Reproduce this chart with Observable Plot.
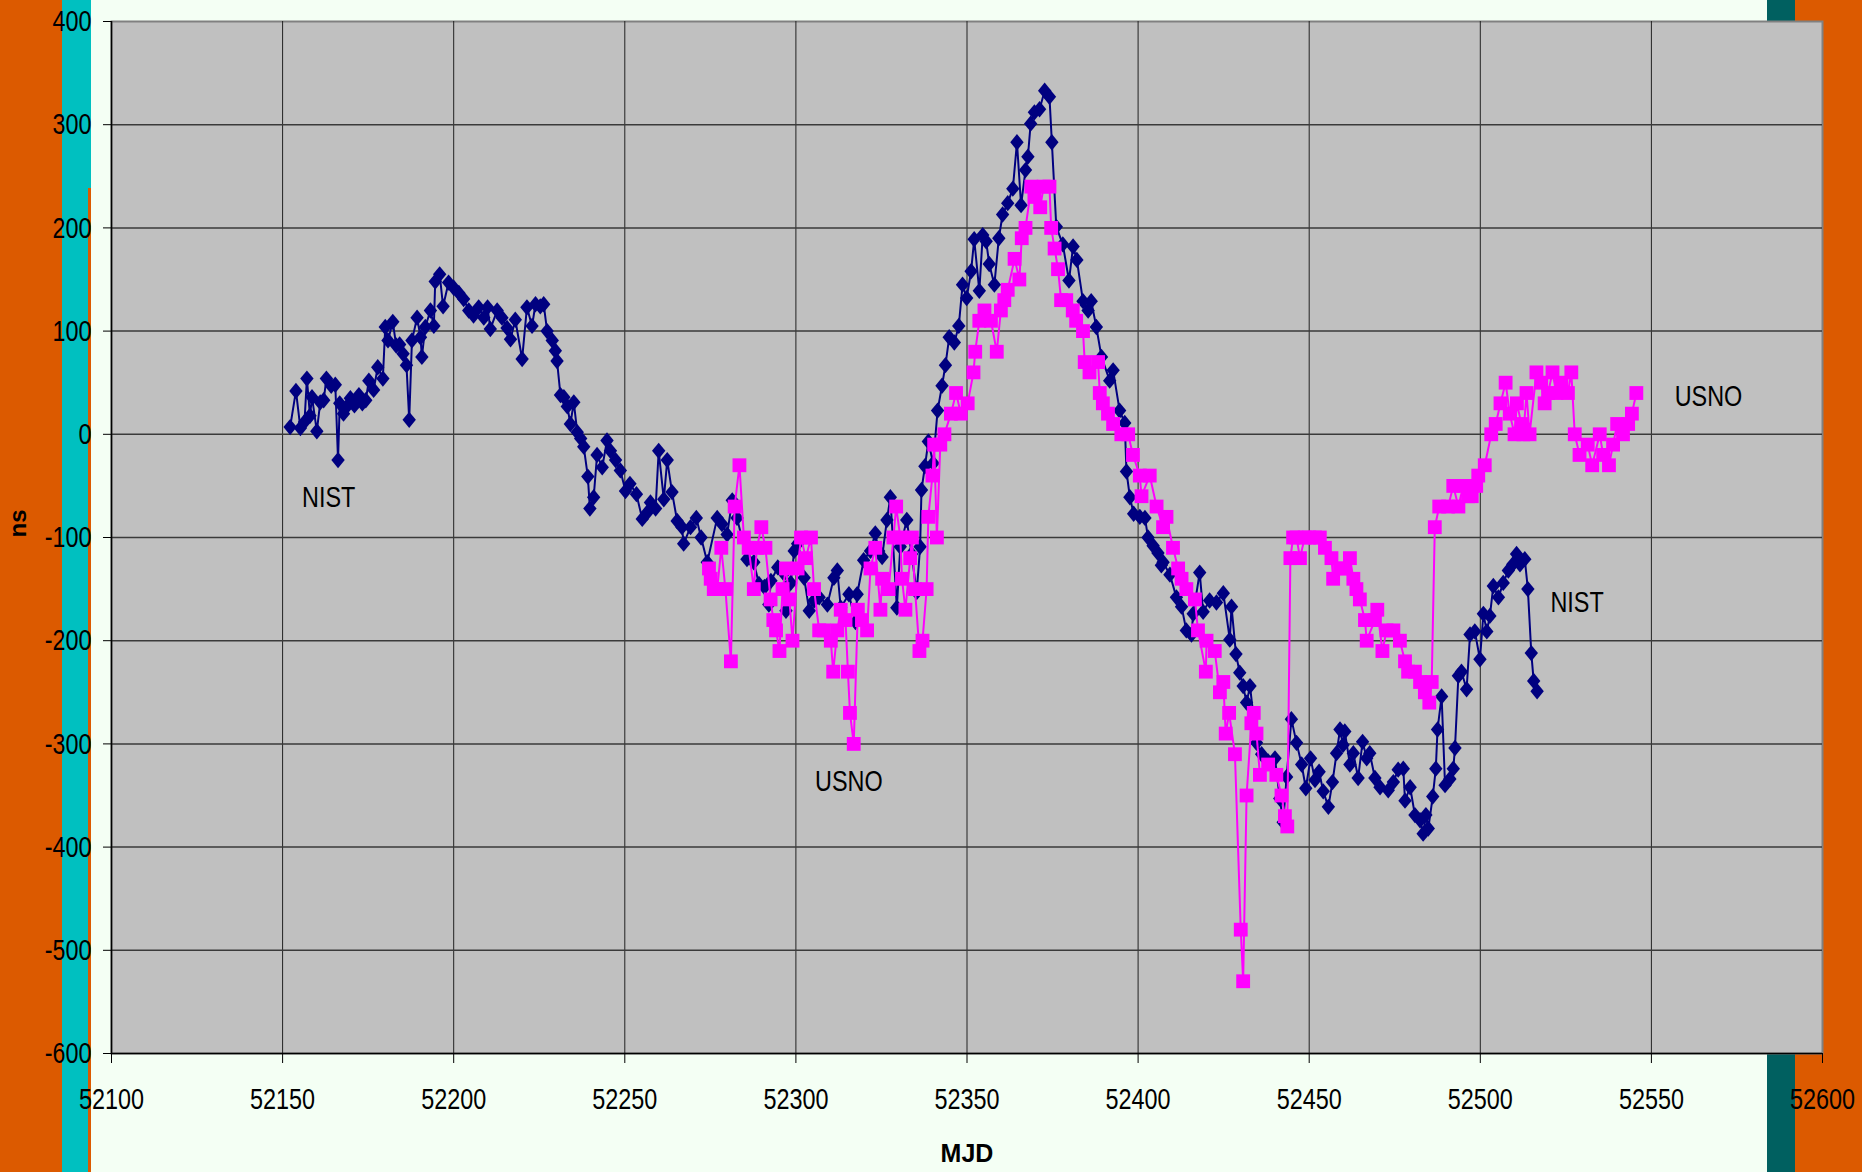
<!DOCTYPE html>
<html>
<head>
<meta charset="utf-8">
<script src="https://cdn.jsdelivr.net/npm/d3@7"></script>
<script src="https://cdn.jsdelivr.net/npm/@observablehq/plot@0.6"></script>
<style>
  html, body { margin: 0; padding: 0; }
  body { width: 1862px; height: 1172px; position: relative; overflow: hidden; background: #F4FFF4; }
  .band { position: absolute; }
  #chart { position: absolute; left: 0; top: 0; }
</style>
</head>
<body>
<div class="band" style="left:0;top:0;width:62px;height:1172px;background:#DC5A00"></div>
<div class="band" style="left:62px;top:0;width:29px;height:1172px;background:#00C0C0"></div>
<div class="band" style="left:88px;top:188px;width:3px;height:984px;background:#DC5A00"></div>
<div class="band" style="left:1767px;top:0;width:28px;height:1172px;background:#006060"></div>
<div class="band" style="left:1795px;top:0;width:67px;height:1172px;background:#DC5A00"></div>
<div id="chart"></div>
<script>
const xTicks = [52100, 52150, 52200, 52250, 52300, 52350, 52400, 52450, 52500, 52550, 52600];
const yTicks = [400, 300, 200, 100, 0, -100, -200, -300, -400, -500, -600];
const xGrid = [52150, 52200, 52250, 52300, 52350, 52400, 52450, 52500, 52550];
const yGrid = [300, 200, 100, 0, -100, -200, -300, -400, -500];

const nistMjd = [52152.2,52153.9,52155.2,52156.4,52157.1,52158.0,52158.6,52160.0,52161.0,52162.0,52162.8,52164.2,52165.4,52166.2,52166.7,52167.8,52168.8,52169.8,52171.0,52172.3,52173.3,52174.3,52175.2,52176.6,52177.8,52179.3,52180.0,52180.8,52182.2,52183.2,52184.2,52185.2,52186.2,52187.0,52187.8,52189.3,52190.3,52190.7,52191.7,52193.2,52194.2,52194.6,52195.9,52196.9,52198.5,52200.0,52201.5,52202.9,52204.4,52205.8,52207.3,52208.8,52209.9,52210.7,52212.7,52214.1,52215.6,52216.6,52218.0,52220.0,52221.4,52222.9,52223.9,52225.3,52226.3,52227.3,52228.8,52229.7,52230.2,52231.2,52232.2,52233.2,52234.1,52235.1,52236.1,52237.1,52238.0,52239.2,52239.8,52240.9,52241.9,52243.4,52244.8,52245.8,52247.3,52248.7,52250.2,52251.5,52253.4,52255.1,52256.5,52257.5,52259.0,52259.9,52261.4,52262.4,52263.8,52265.3,52266.7,52267.2,52269.2,52270.9,52272.3,52274.1,52277.0,52278.4,52279.9,52281.4,52282.8,52285.7,52287.7,52289.2,52290.8,52292.1,52292.7,52294.7,52296.5,52297.1,52298.5,52299.5,52300.5,52302.4,52303.9,52305.3,52306.8,52309.2,52311.1,52312.1,52313.1,52315.5,52317.4,52317.9,52319.8,52321.8,52323.2,52324.2,52325.2,52326.6,52327.6,52329.5,52330.5,52332.4,52333.8,52335.3,52336.3,52336.7,52337.7,52338.7,52340.1,52341.4,52342.7,52343.7,52344.8,52346.3,52347.6,52348.7,52349.9,52351.2,52352.1,52353.6,52354.6,52355.6,52356.5,52358.0,52359.3,52360.4,52361.9,52363.4,52364.6,52365.8,52367.1,52367.8,52368.6,52369.7,52371.2,52372.7,52374.1,52374.8,52376.1,52378.0,52379.8,52381.0,52382.1,52383.9,52385.4,52386.3,52387.8,52389.3,52391.7,52392.7,52394.6,52396.1,52396.6,52397.6,52398.7,52400.5,52402.0,52402.9,52404.4,52405.8,52406.8,52407.3,52409.3,52411.2,52412.7,52414.1,52415.6,52416.1,52418.0,52419.0,52420.9,52422.9,52424.9,52426.8,52427.3,52428.6,52429.7,52430.7,52431.7,52432.7,52434.6,52436.1,52438.0,52440.0,52441.4,52442.4,52443.4,52444.8,52446.3,52447.8,52449.0,52450.4,52451.7,52452.9,52454.1,52455.6,52456.8,52458.0,52459.0,52459.9,52460.4,52461.9,52462.9,52464.3,52465.6,52466.8,52467.7,52469.2,52470.7,52473.1,52474.6,52476.0,52477.5,52478.0,52479.5,52480.9,52482.4,52483.3,52484.1,52484.8,52486.1,52487.0,52487.5,52488.7,52489.7,52491.1,52492.1,52492.6,52493.6,52494.5,52496.0,52497.0,52498.4,52499.9,52500.9,52501.9,52502.8,52503.8,52505.3,52506.7,52508.2,52509.5,52510.6,52511.6,52513.0,52513.9,52514.9,52515.6,52516.6];
const nistNs = [7,42,6,12,54,18,36,3,31,33,54,47,48,-25,30,20,27,35,28,38,30,33,52,43,65,54,104,91,109,86,87,78,67,14,91,113,94,75,104,120,105,148,155,124,147,142,137,131,120,115,123,113,123,102,120,113,103,92,111,73,123,105,126,124,126,100,91,81,71,38,36,27,10,31,2,-4,-12,-41,-72,-61,-20,-32,-6,-16,-25,-35,-55,-48,-58,-82,-76,-66,-72,-16,-63,-25,-56,-84,-90,-106,-90,-81,-100,-124,-81,-87,-97,-64,-81,-121,-124,-145,-148,-165,-142,-129,-135,-171,-144,-113,-106,-139,-171,-161,-158,-165,-139,-132,-168,-155,-182,-155,-122,-113,-96,-113,-119,-83,-61,-168,-109,-83,-116,-153,-109,-54,-31,-7,-28,23,47,67,94,89,105,145,132,158,189,139,193,187,165,145,190,213,224,238,283,222,256,269,301,312,315,333,327,283,201,184,149,182,169,129,120,129,104,75,52,62,23,11,-36,-61,-77,-80,-81,-100,-108,-115,-127,-124,-136,-158,-167,-190,-194,-174,-134,-172,-161,-163,-154,-199,-167,-213,-231,-244,-260,-244,-299,-310,-317,-314,-353,-376,-332,-276,-299,-320,-343,-314,-335,-327,-346,-361,-337,-309,-286,-301,-288,-320,-309,-333,-298,-314,-309,-333,-342,-345,-337,-325,-324,-355,-342,-369,-374,-387,-369,-382,-351,-324,-286,-254,-340,-334,-324,-304,-234,-230,-247,-194,-191,-218,-174,-191,-176,-147,-158,-144,-132,-126,-116,-126,-121,-150,-212,-239,-249];

const usnoMjd = [52274.6,52275.1,52276.0,52277.0,52278.2,52279.4,52281.0,52282.1,52283.5,52284.8,52286.2,52287.7,52288.6,52289.9,52291.1,52292.6,52293.4,52294.2,52295.2,52296.1,52297.1,52298.1,52299.0,52300.5,52301.5,52302.9,52304.4,52305.3,52306.8,52308.2,52310.2,52310.9,52312.1,52313.1,52314.5,52315.2,52315.8,52316.9,52318.1,52319.3,52320.8,52321.8,52323.2,52324.7,52325.2,52327.1,52328.5,52329.3,52330.5,52331.0,52332.0,52333.4,52333.9,52334.8,52336.1,52337.0,52338.2,52338.7,52339.9,52340.4,52341.2,52342.2,52343.4,52345.3,52346.8,52348.2,52350.2,52351.9,52352.4,52353.6,52355.1,52357.0,52358.7,52359.9,52360.9,52361.9,52363.9,52365.3,52366.0,52367.1,52368.8,52369.7,52371.4,52372.4,52374.1,52374.6,52375.6,52376.6,52377.5,52379.0,52380.9,52381.9,52383.9,52384.4,52385.8,52388.3,52388.8,52389.7,52391.2,52392.7,52395.1,52397.1,52398.5,52400.5,52401.0,52403.4,52405.4,52407.3,52408.3,52410.2,52411.7,52412.7,52414.1,52416.6,52417.5,52419.8,52420.0,52422.4,52423.9,52424.9,52425.6,52426.6,52428.3,52430.0,52430.7,52431.7,52433.1,52433.8,52434.6,52435.6,52438.0,52440.4,52441.9,52442.9,52443.6,52444.5,52445.3,52446.3,52447.3,52448.7,52450.0,52451.7,52453.1,52454.6,52456.5,52457.0,52459.0,52460.5,52461.9,52462.9,52463.8,52464.8,52466.3,52466.8,52469.2,52469.9,52471.4,52472.6,52474.6,52476.5,52478.0,52478.9,52480.9,52482.4,52483.8,52485.1,52485.8,52486.7,52488.0,52490.6,52492.1,52493.6,52495.0,52496.4,52497.5,52498.8,52499.4,52501.3,52503.2,52504.5,52505.9,52507.4,52508.6,52510.0,52510.7,52512.0,52512.6,52513.5,52514.4,52516.4,52517.8,52518.8,52519.8,52521.1,52522.2,52523.7,52525.6,52526.6,52527.6,52529.0,52531.4,52532.7,52534.9,52535.9,52537.6,52538.8,52540.0,52541.7,52543.2,52544.3,52545.6];
const usnoNs = [-130,-140,-150,-150,-110,-150,-220,-70,-30,-100,-110,-150,-110,-90,-110,-160,-180,-190,-210,-150,-130,-160,-200,-130,-100,-120,-100,-150,-190,-190,-200,-230,-190,-170,-180,-230,-270,-300,-170,-180,-190,-130,-110,-170,-140,-150,-100,-70,-100,-140,-170,-120,-100,-150,-210,-200,-150,-80,-40,-10,-100,-10,0,20,40,20,30,60,80,110,120,110,80,120,130,140,170,150,190,200,240,230,220,240,240,200,180,160,130,130,120,110,100,70,60,70,40,30,20,10,0,0,-20,-40,-60,-40,-70,-90,-80,-110,-130,-140,-150,-160,-190,-230,-200,-210,-250,-240,-290,-270,-310,-480,-530,-350,-280,-270,-290,-330,-320,-330,-350,-370,-380,-120,-100,-100,-120,-100,-100,-100,-100,-110,-120,-140,-130,-130,-120,-140,-150,-160,-180,-200,-180,-170,-210,-190,-190,-200,-220,-230,-230,-240,-250,-260,-240,-90,-70,-70,-50,-70,-50,-60,-60,-50,-40,-30,0,10,30,50,20,0,30,10,0,40,0,60,50,30,40,60,40,50,40,60,0,-20,-10,-30,0,-20,-30,-10,10,0,10,20,40];

const labelText = ["NIST", "USNO", "USNO", "NIST"];
const labelMjd = [52155.7, 52305.6, 52556.8, 52520.5];
const labelNs = [-61, -336, 37, -163];

const nist = nistMjd.map((m, i) => ({mjd: m, ns: nistNs[i]}));
const usno = usnoMjd.map((m, i) => ({mjd: m, ns: usnoNs[i]}));
const labels = labelText.map((t, i) => ({text: t, mjd: labelMjd[i], ns: labelNs[i]}));

const font = "'Liberation Sans', Arial, sans-serif";

// Excel-like diamond: a little taller than wide
const tallDiamond = {
  draw(context, size) {
    const r = Math.sqrt(size / Math.PI);
    const w = r, h = r * 1.22;
    context.moveTo(0, -h);
    context.lineTo(w, 0);
    context.lineTo(0, h);
    context.lineTo(-w, 0);
    context.closePath();
  }
};

const chart = Plot.plot({
  width: 1862,
  height: 1172,
  marginLeft: 111,
  marginRight: 40,
  marginTop: 21,
  marginBottom: 119,
  style: {background: "transparent", fontFamily: font, fontSize: "30px", color: "#000", overflow: "visible"},
  x: {domain: [52100, 52600]},
  y: {domain: [-600, 400]},
  marks: [
    Plot.frame({fill: "#C0C0C0", stroke: "#808080", strokeWidth: 2}),
    Plot.ruleX(xGrid, {stroke: "#222", strokeWidth: 1}),
    Plot.ruleY(yGrid, {stroke: "#3a3a3a", strokeWidth: 1.5}),
    Plot.ruleX([52100], {stroke: "#000", strokeWidth: 1.5}),
    Plot.ruleY([-600], {stroke: "#000", strokeWidth: 1.5}),
    Plot.axisX({ticks: xTicks, tickSize: 10, tickPadding: 24, tickFormat: d => String(d), label: null, stroke: "#000"}),
    Plot.axisY({ticks: yTicks, tickSize: 8, tickPadding: 12, tickFormat: d => String(d), label: null, stroke: "#000"}),
    Plot.line(nist, {x: "mjd", y: "ns", stroke: "#000080", strokeWidth: 2}),
    Plot.dot(nist, {x: "mjd", y: "ns", symbol: tallDiamond, r: 6.7, fill: "#000080", stroke: "none"}),
    Plot.line(usno, {x: "mjd", y: "ns", stroke: "#FF00FF", strokeWidth: 2}),
    Plot.dot(usno, {x: "mjd", y: "ns", symbol: "square", r: 7.8, fill: "#FF00FF", stroke: "none"}),
    Plot.text(labels, {x: "mjd", y: "ns", text: "text", textAnchor: "start", fontSize: 30, fill: "#000"}),
    Plot.text(["ns"], {frameAnchor: "left", dx: -93, rotate: -90, fontSize: 24, fontWeight: "bold", fill: "#000"}),
    Plot.text(["MJD"], {frameAnchor: "bottom", dy: 108, fontSize: 25, fontWeight: "bold", fill: "#000"})
  ]
});

// Condense the numeric and annotation texts horizontally (Arial Narrow look)
d3.select(chart).selectAll("text").each(function() {
  const t = this.textContent;
  if (t === "ns" || t === "MJD") return;
  const el = d3.select(this);
  const tr = el.attr("transform") || "";
  el.attr("transform", tr + " scale(0.78,1)");
});

document.getElementById("chart").appendChild(chart);
</script>
</body>
</html>
